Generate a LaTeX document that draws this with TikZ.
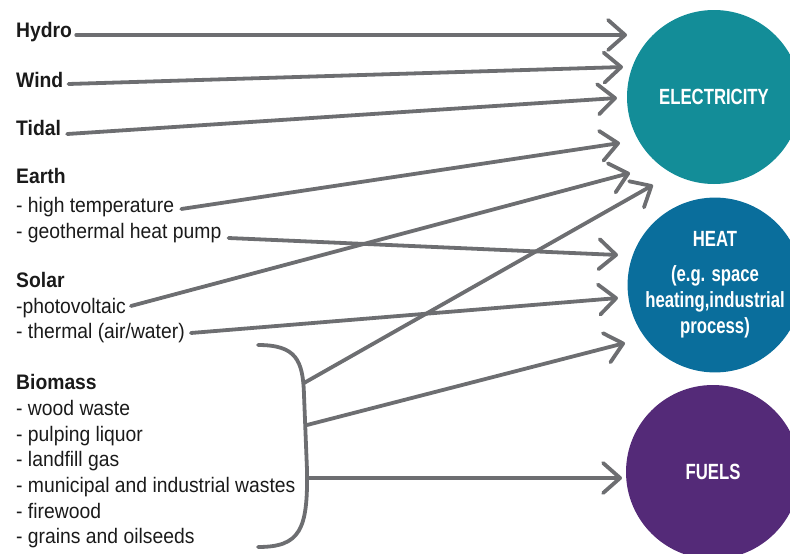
\documentclass[tikz,border=0pt]{standalone}
\usepackage{fontspec}
\setmainfont{Liberation Sans}
\newfontfamily\textnarrow[FakeStretch=0.92]{Liberation Sans}
\newfontfamily\circfont[FakeStretch=0.76]{Liberation Sans}
\usetikzlibrary{arrows.meta,calc}

\definecolor{linegray}{HTML}{6D6E71}
\definecolor{elec}{HTML}{138D98}
\definecolor{heat}{HTML}{0A6E9C}
\definecolor{fuel}{HTML}{542A78}
\definecolor{ink}{HTML}{1A1A1A}

\begin{document}
\begin{tikzpicture}[x=1pt,y=-1pt,
  label/.style={anchor=base west, inner sep=0pt, text=ink,
    font=\textnarrow\fontsize{21}{24}\selectfont},
  heading/.style={label, font=\textnarrow\fontsize{21}{24}\selectfont\bfseries},
  link/.style={draw=linegray, line width=3.8pt, line cap=round,
    -{Straight Barb[length=17pt,width=30pt,round]}},
  bracket/.style={draw=linegray, line width=3.8pt, line cap=round},
  target/.style={circle, minimum size=174pt, inner sep=0pt, text=white,
    align=center, font=\circfont\fontsize{22}{26}\selectfont\bfseries}]

\useasboundingbox (0,0) rectangle (790,554);

% output circles
\node[target, fill=elec] (elec) at (714,97) {ELECTRICITY};
\node[target, fill=heat] (heat) at (715,285)
  {HEAT\\[9pt](e.g. space\\heating,industrial\\process)};
\node[target, fill=fuel] (fuel) at (713,472) {FUELS};

% sources
\node[heading] (hydro) at (16,37) {Hydro};
\node[heading] (wind)  at (16,87) {Wind};
\node[heading] (tidal) at (16,135) {Tidal};

\node[heading] (earth) at (16,183) {Earth};
\node[label] (hightemp) at (16,212) {- high temperature};
\node[label] (geo) at (16,238) {- geothermal heat pump};

\node[heading] (solar) at (16,287) {Solar};
\node[label] (pv) at (16,313) {-photovoltaic};
\node[label] (thermal) at (16,338) {- thermal (air/water)};

\node[heading] (biomass) at (16,389) {Biomass};
\node[label] (wood) at (16,415) {- wood waste};
\node[label] (pulp) at (16,441) {- pulping liquor};
\node[label] (landfill) at (16,466) {- landfill gas};
\node[label] (municipal) at (16,492) {- municipal and industrial wastes};
\node[label] (firewood) at (16,518) {- firewood};
\node[label] (grains) at (16,543) {- grains and oilseeds};

% bracket grouping the biomass sources
\draw[bracket] (258,345) .. controls (296,345) and (303,360) .. (304,395)
  -- (307,470) .. controls (308,530) and (300,547) .. (258,547);
\coordinate (bupper) at (304,383);
\coordinate (bmiddle) at (307,425);
\coordinate (blower) at (308,478);

% arrow tips in front of the circles
\coordinate (tHydro) at (627,35);
\coordinate (tWind) at (623,67);
\coordinate (tTidal) at (617,98);
\coordinate (tHigh) at (620,143);
\coordinate (tPv) at (630,173);
\coordinate (tBioE) at (653,185);
\coordinate (tGeo) at (618,255);
\coordinate (tThermal) at (618,298);
\coordinate (tBioH) at (625,343);
\coordinate (tBioF) at (622,478);

% connectors
\draw[link] ([shift={(4,-2)}]hydro.base east) -- (tHydro);
\draw[link] ([shift={(5,-3)}]wind.base east) -- (tWind);
\draw[link] ([shift={(6,-1)}]tidal.base east) -- (tTidal);
\draw[link] ([shift={(7,-3)}]hightemp.base east) -- (tHigh);
\draw[link] ([shift={(7,0)}]geo.base east) -- (tGeo);
\draw[link] ([shift={(5,-7)}]pv.base east) -- (tPv);
\draw[link] ([shift={(6,-5)}]thermal.base east) -- (tThermal);
\draw[link] (bupper) -- (tBioE);
\draw[link] (bmiddle) -- (tBioH);
\draw[link] (blower) -- (tBioF);

\end{tikzpicture}
\end{document}
